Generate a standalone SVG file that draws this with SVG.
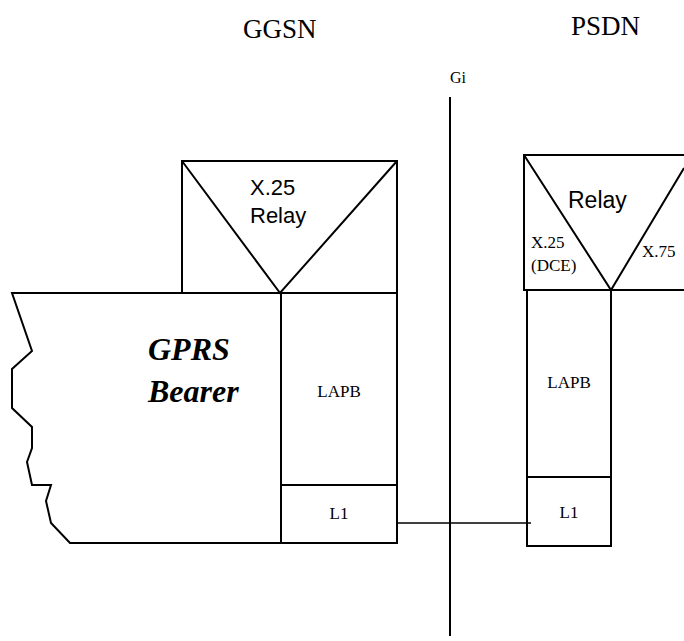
<svg xmlns="http://www.w3.org/2000/svg" width="684" height="641" viewBox="0 0 684 641">
<style>
.s{fill:none;stroke:#000;stroke-width:2;stroke-linejoin:miter}
.c{fill:none;stroke:#000;stroke-width:1.5}
.tm{font-family:"Liberation Serif",serif;fill:#000}
.ar{font-family:"Liberation Sans",sans-serif;fill:#000}
</style>
<rect width="684" height="641" fill="#fff"/>
<g id="titles">
<text class="tm" x="243" y="38" font-size="27">GGSN</text>
<text class="tm" x="571" y="35" font-size="27">PSDN</text>
<text class="tm" x="450" y="83" font-size="16">Gi</text>
</g>
<g id="gprs-bearer">
<polyline class="s" points="281,293 12,293 32,351 12,369 12,408 32,427 32,448 27,462 32,485 51,485 46,501 51,523 70,543 281,543"/>
<text class="tm" x="148" y="360" font-size="32" font-weight="bold" font-style="italic">GPRS</text>
<text class="tm" x="148" y="402" font-size="32" font-weight="bold" font-style="italic">Bearer</text>
</g>
<g id="ggsn-relay">
<rect class="s" x="182" y="161" width="215" height="132"/>
<polyline class="s" points="182,161 280,293 397,161"/>
<text class="ar" x="250" y="195" font-size="22">X.25</text>
<text class="ar" x="250" y="223" font-size="22">Relay</text>
</g>
<g id="ggsn-lapb">
<rect class="s" x="281" y="293" width="116" height="192"/>
<text class="tm" x="339" y="397" font-size="17" text-anchor="middle">LAPB</text>
</g>
<g id="ggsn-l1">
<rect class="s" x="281" y="485" width="116" height="58"/>
<text class="tm" x="339" y="519" font-size="17" text-anchor="middle">L1</text>
</g>
<g id="psdn-relay">
<polyline class="s" points="684,155 524,155 524,290 684,290"/>
<polyline class="s" points="524,155 611,290 684,168"/>
<text class="ar" x="568" y="208" font-size="23">Relay</text>
<text class="tm" x="531" y="248" font-size="17">X.25</text>
<text class="tm" x="531" y="271" font-size="17">(DCE)</text>
<text class="tm" x="642" y="257" font-size="17">X.75</text>
</g>
<g id="psdn-lapb">
<rect class="s" x="527" y="290" width="84" height="187"/>
<text class="tm" x="569" y="388" font-size="17" text-anchor="middle">LAPB</text>
</g>
<g id="psdn-l1">
<rect class="s" x="527" y="477" width="84" height="69"/>
<text class="tm" x="569" y="518" font-size="17" text-anchor="middle">L1</text>
</g>
<g id="connectors">
<line class="c" x1="397" y1="523" x2="531" y2="523"/>
<line class="s" x1="450" y1="97" x2="450" y2="636"/>
</g>
</svg>
